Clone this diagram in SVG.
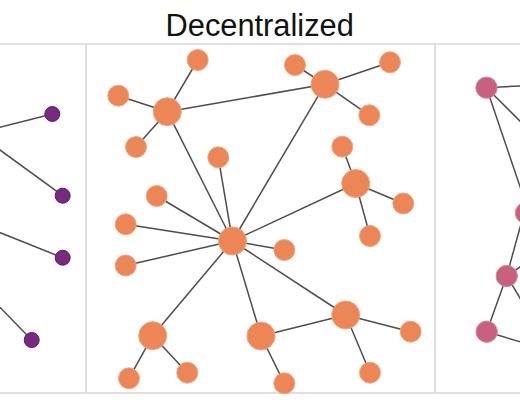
<svg xmlns="http://www.w3.org/2000/svg" width="520" height="400" viewBox="0 0 520 400">
<style>
.frame{stroke:#d4d4d4;stroke-width:1.5;fill:none}
.edge{stroke:#4d4d4d;stroke-width:1.5;fill:none}
.o{fill:#ec8657;stroke:#f3a37c;stroke-width:1}
.p{fill:#782a80;stroke:#5c1d62;stroke-width:1}
.k{fill:#c8617f;stroke:#d98aa1;stroke-width:1}
.title{font-family:"Liberation Sans",Arial,sans-serif;font-size:30.8px;fill:#111}
</style>
<rect width="520" height="400" fill="#fff"/>
<text class="title" x="259.7" y="35.7" text-anchor="middle">Decentralized</text>
<g id="frames">
<line class="frame" x1="0" y1="44" x2="520" y2="44"/>
<line class="frame" x1="0" y1="393" x2="520" y2="393"/>
<line class="frame" x1="86" y1="44" x2="86" y2="393"/>
<line class="frame" x1="435" y1="44" x2="435" y2="393"/>
</g>
<g id="connectors">
<line class="edge" x1="-40" y1="137.5" x2="52.3" y2="114"/>
<line class="edge" x1="-40" y1="120.8" x2="62.7" y2="195.7"/>
<line class="edge" x1="-40" y1="216.7" x2="62.7" y2="257.7"/>
<line class="edge" x1="-40" y1="266" x2="31.7" y2="340"/>
<line class="edge" x1="167.3" y1="111.7" x2="197.7" y2="60"/>
<line class="edge" x1="167.3" y1="111.7" x2="118.3" y2="95.7"/>
<line class="edge" x1="167.3" y1="111.7" x2="136" y2="147"/>
<line class="edge" x1="167.3" y1="111.7" x2="325" y2="84.3"/>
<line class="edge" x1="167.3" y1="111.7" x2="232.5" y2="241"/>
<line class="edge" x1="325" y1="84.3" x2="295" y2="65"/>
<line class="edge" x1="325" y1="84.3" x2="390" y2="62.3"/>
<line class="edge" x1="325" y1="84.3" x2="369.3" y2="115.3"/>
<line class="edge" x1="325" y1="84.3" x2="232.5" y2="241"/>
<line class="edge" x1="355.7" y1="183.5" x2="342.3" y2="146.7"/>
<line class="edge" x1="355.7" y1="183.5" x2="403.3" y2="203.5"/>
<line class="edge" x1="355.7" y1="183.5" x2="370" y2="236"/>
<line class="edge" x1="355.7" y1="183.5" x2="232.5" y2="241"/>
<line class="edge" x1="232.5" y1="241" x2="218.3" y2="157.3"/>
<line class="edge" x1="232.5" y1="241" x2="156.7" y2="196"/>
<line class="edge" x1="232.5" y1="241" x2="125.7" y2="224.3"/>
<line class="edge" x1="232.5" y1="241" x2="125.7" y2="265.5"/>
<line class="edge" x1="232.5" y1="241" x2="284.3" y2="250"/>
<line class="edge" x1="232.5" y1="241" x2="345.7" y2="315"/>
<line class="edge" x1="232.5" y1="241" x2="261" y2="336"/>
<line class="edge" x1="232.5" y1="241" x2="152.7" y2="335.7"/>
<line class="edge" x1="152.7" y1="335.7" x2="129" y2="378.3"/>
<line class="edge" x1="152.7" y1="335.7" x2="187.3" y2="372.7"/>
<line class="edge" x1="261" y1="336" x2="284.3" y2="383.3"/>
<line class="edge" x1="261" y1="336" x2="345.7" y2="315"/>
<line class="edge" x1="345.7" y1="315" x2="410.7" y2="331.7"/>
<line class="edge" x1="345.7" y1="315" x2="370" y2="372.7"/>
<line class="edge" x1="486.5" y1="87.7" x2="560" y2="84"/>
<line class="edge" x1="486.5" y1="87.7" x2="560" y2="161"/>
<line class="edge" x1="486.5" y1="87.7" x2="529" y2="213"/>
<line class="edge" x1="506.7" y1="276" x2="524" y2="213"/>
<line class="edge" x1="506.7" y1="276" x2="560" y2="240"/>
<line class="edge" x1="506.7" y1="276" x2="540" y2="331"/>
<line class="edge" x1="506.7" y1="276" x2="486.7" y2="331.7"/>
<line class="edge" x1="486.7" y1="331.7" x2="560" y2="354"/>
</g>
<g id="left-nodes">
<g id="p1"><circle class="p" cx="52.3" cy="114" r="7.5"/></g>
<g id="p2"><circle class="p" cx="62.7" cy="195.7" r="7.5"/></g>
<g id="p3"><circle class="p" cx="62.7" cy="257.7" r="7.5"/></g>
<g id="p4"><circle class="p" cx="31.7" cy="340" r="7.5"/></g>
</g>
<g id="middle-nodes">
<g id="hubA"><circle class="o" cx="167.3" cy="111.7" r="14"/></g>
<g id="hubB"><circle class="o" cx="325" cy="84.3" r="14"/></g>
<g id="hubC"><circle class="o" cx="355.7" cy="183.5" r="14"/></g>
<g id="center"><circle class="o" cx="232.5" cy="241" r="14"/></g>
<g id="hubD"><circle class="o" cx="152.7" cy="335.7" r="14"/></g>
<g id="hubE"><circle class="o" cx="261" cy="336" r="14"/></g>
<g id="hubF"><circle class="o" cx="345.7" cy="315" r="14"/></g>
<g id="o1"><circle class="o" cx="197.7" cy="60" r="10.5"/></g>
<g id="o2"><circle class="o" cx="118.3" cy="95.7" r="10.5"/></g>
<g id="o3"><circle class="o" cx="136" cy="147" r="10.5"/></g>
<g id="o4"><circle class="o" cx="295" cy="65" r="10.5"/></g>
<g id="o5"><circle class="o" cx="390" cy="62.3" r="10.5"/></g>
<g id="o6"><circle class="o" cx="369.3" cy="115.3" r="10.5"/></g>
<g id="o7"><circle class="o" cx="342.3" cy="146.7" r="10.5"/></g>
<g id="o8"><circle class="o" cx="403.3" cy="203.5" r="10.5"/></g>
<g id="o9"><circle class="o" cx="370" cy="236" r="10.5"/></g>
<g id="o10"><circle class="o" cx="218.3" cy="157.3" r="10.5"/></g>
<g id="o11"><circle class="o" cx="156.7" cy="196" r="10.5"/></g>
<g id="o12"><circle class="o" cx="125.7" cy="224.3" r="10.5"/></g>
<g id="o13"><circle class="o" cx="125.7" cy="265.5" r="10.5"/></g>
<g id="o14"><circle class="o" cx="284.3" cy="250" r="10.5"/></g>
<g id="o15"><circle class="o" cx="129" cy="378.3" r="10.5"/></g>
<g id="o16"><circle class="o" cx="187.3" cy="372.7" r="10.5"/></g>
<g id="o17"><circle class="o" cx="284.3" cy="383.3" r="10.5"/></g>
<g id="o18"><circle class="o" cx="410.7" cy="331.7" r="10.5"/></g>
<g id="o19"><circle class="o" cx="370" cy="372.7" r="10.5"/></g>
</g>
<g id="right-nodes">
<g id="k1"><circle class="k" cx="486.5" cy="87.7" r="10.7"/></g>
<g id="k2"><circle class="k" cx="526" cy="213" r="10.7"/></g>
<g id="k3"><circle class="k" cx="506.7" cy="276" r="10.7"/></g>
<g id="k4"><circle class="k" cx="486.7" cy="331.7" r="10.7"/></g>
</g>
</svg>
